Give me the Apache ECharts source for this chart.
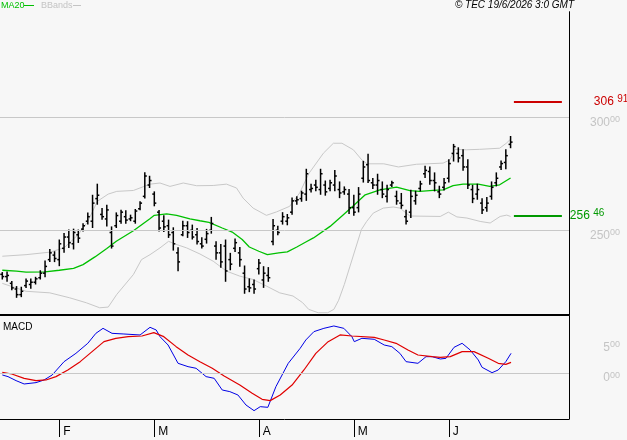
<!DOCTYPE html>
<html>
<head>
<meta charset="utf-8">
<script src="https://cdn.jsdelivr.net/npm/echarts@6/dist/echarts.min.js"></script>
<style>
html, body { margin: 0; padding: 0; background: #f7f7f7; }
#chart { width: 627px; height: 440px; }
</style>
</head>
<body>
<div id="chart"></div>
<script>
// daily bars
var opens = [230.5,229.5,226.5,224.0,221.5,225.5,226.0,227.0,229.0,231.0, 237.0,239.0,237.0,242.0,247.0,244.0,248.0,250.5,254.0,254.0,
  264.0,257.0,255.0,249.0,252.0,254.0,256.0,255.0,254.0,259.5, 265.0,270.0,266.0,258.0,254.0,252.0,249.0,240.0,248.0,252.0,
  250.0,248.0,244.0,246.0,250.0,243.0,240.0,243.0,237.0,242.0, 240.0,231.0,225.0,226.0,233.0,228.0,230.0,245.0,250.0,254.0,
  254.0,258.0,263.0,264.0,266.0,268.0,270.0,268.0,270.0,268.5, 270.0,268.0,267.0,266.0,260.0,260.0,273.0,279.0,271.0,270.0,
  268.0,265.0,270.0,265.0,262.0,256.0,258.0,263.0,268.5,275.0, 276.0,272.0,267.0,269.0,273.0,284.0,284.0,283.0,278.0,268.0,
  266.0,262.0,260.0,265.0,271.0,278.0,280.0,288.0];
var highs = [231.5,231.7,227.5,225.3,225.0,228.7,228.7,229.4,232.3,236.6, 241.7,240.7,245.9,248.8,250.3,250.7,250.3,253.1,257.9,265.7,
  270.6,259.8,261.3,251.7,257.9,259.1,258.8,256.9,259.4,262.8, 275.7,274.1,267.2,259.0,256.6,254.7,251.3,242.5,254.2,254.0,
  252.5,251.0,246.9,250.6,255.9,245.1,243.9,245.9,240.0,246.3, 242.6,234.4,228.7,228.2,237.3,234.1,233.7,255.0,252.0,258.0,
  257.2,264.5,265.0,267.5,277.2,270.6,272.3,277.2,272.0,272.3, 276.7,271.6,269.4,268.3,265.7,269.1,280.7,283.8,273.1,275.0,
  271.6,270.1,271.9,267.5,266.5,259.1,267.9,267.5,271.9,278.5, 278.2,275.6,269.7,273.1,281.4,288.2,286.7,285.8,281.4,270.1,
  270.6,264.2,264.7,271.6,275.6,280.9,285.8,291.7];
var lows = [228.2,227.2,223.5,220.1,220.4,224.5,224.1,226.0,228.2,229.2, 236.0,235.9,234.1,240.0,242.2,241.5,244.4,249.5,252.5,251.0,
  261.3,254.7,251.7,241.9,251.0,252.9,252.9,254.0,252.9,258.8, 264.0,268.7,260.6,249.5,249.2,246.6,241.0,231.9,247.3,246.6,
  245.9,243.7,241.9,244.1,248.5,237.0,233.4,227.2,232.3,240.4, 233.8,221.9,222.6,221.9,230.4,224.5,227.2,243.4,247.8,252.5,
  252.2,256.9,261.3,262.6,263.0,266.7,267.2,265.7,265.3,267.2, 267.2,264.2,265.7,257.2,256.4,257.9,271.1,270.9,268.3,265.7,
  264.2,262.3,269.1,261.3,259.5,252.5,255.4,261.3,267.2,273.1, 270.1,267.2,264.2,267.6,271.1,280.4,280.0,276.3,268.3,262.0,
  263.5,257.2,258.2,263.5,269.4,276.7,277.0,286.3];
var closes = [229.5,230.0,224.5,221.5,223.0,227.5,227.0,228.5,231.0,234.0, 240.0,237.5,244.0,247.0,244.5,249.0,246.5,252.0,256.0,262.0,
  265.5,256.0,259.0,243.0,256.5,258.0,254.5,255.5,258.5,262.0, 274.0,272.0,262.0,251.0,251.5,248.0,244.0,236.0,252.0,249.0,
  247.0,245.0,243.0,248.5,253.0,240.0,236.0,232.0,235.0,244.5, 237.0,224.0,224.5,224.0,235.5,231.0,229.0,252.0,249.0,256.0,
  255.5,263.0,263.5,266.5,275.0,268.5,269.0,275.0,267.0,271.0, 274.0,266.5,268.0,260.0,258.0,266.0,278.0,272.0,270.0,272.0,
  266.0,268.0,271.0,263.0,261.0,254.0,265.0,265.5,270.5,276.5, 272.0,271.0,266.0,271.0,279.5,287.0,282.0,278.0,270.0,264.0,
  268.0,259.0,262.0,269.0,273.0,279.5,283.0,289.0];

// month ticks (bar index of first day)
var monthStarts = [12, 32, 54, 74, 94];
var monthLabels = ['F', 'M', 'A', 'M', 'J'];

// MA20, sampled at bar positions
var maK = [0,3,5,9,12,15,17,19.5,22,24, 27.6,31,32,34.6,36.7,39.5,41.6,43.5,46.3,48.4,
  50.5,52,54,55.8,58.2,60,62,63.9,65.5,69, 71.8,73.9,76.4,79.5,83,85.8,87.9,90.7,92.8,94.9, 97,100.2,102.6,104.7,107];
var maV = [232.3,231.9,231.5,231.6,232.3,233.1,234.8,238.2,241.9,245.1, 249.8,255.0,256.6,257.2,256.6,255.0,254.2,253.5,251.0,249.2,
  245.9,242.6,240.7,239.2,240.0,240.4,242.6,244.8,246.6,251.7, 256.9,260.8,265.7,267.9,269.1,267.5,267.2,267.6,267.9,269.7,
  270.4,270.4,269.4,270.1,273.1];

// bollinger upper / lower
var ubK = [0,5,10,13,16,18,20,22.3,24.1,27.6, 31.1,33.2,35.3,38.1,40.9,44.4,47.2,49.3,50.7,52.8,
  55.6,57.7,60.5,62.6,64.5,67.6,69.7,71.5,73.9,75.7, 76.8,80.3,83.4,87.2,92.8,94.2,95.3,97.7,100.5,104.7, 106.1,107];
var ubV = [238.5,239.2,240.3,242.2,248.1,253.9,262.8,266.0,267.2,267.6, 270.4,270.9,269.4,270.9,269.7,269.8,270.4,268.7,264.2,259.8,
  256.6,258.1,260.6,266.5,275.0,284.1,288.5,288.5,285.6,281.1, 279.4,279.4,278.0,279.2,279.7,281.1,285.8,285.6,285.8,286.3, 288.5,290.3];
var lbK = [0,5,10,14.2,17.7,20.5,22.3,24.1,27.6,29.3, 31.1,33.2,35,36.4,38.8,41.6,44.4,47.2,50,52.8,
  55.6,58.4,61.2,63.2,64.5,66.5,68.5,69.8,70.8,72, 73.2,75.6,76.7,78.1,80.2,82.3,83.7,85.8,92.2,93.9,
  95.7,97.8,100.6,102.7,104.8,106.2,107];
var lbV = [226.5,223.0,222.3,220.1,217.9,215.7,216.0,221.6,230.4,237.0, 239.2,242.2,245.1,243.9,242.2,239.5,236.3,231.9,229.7,228.2,
  225.3,222.3,220.9,218.0,215.0,213.5,213.5,215.0,219.0,226.0, 234.1,250.3,253.9,257.6,259.8,260.3,259.8,256.3,256.1,258.0,
  255.9,255.4,253.9,253.2,256.1,256.7,256.1];

// MACD and signal
var macdK = [0,1.2,2.9,4.6,7.1,8.8,10.5,13.0,15.5,18.0, 19.7,21.2,23.1,25.6,29.0,31.1,32.4,33.2,34.9,37.0,
  39.1,40.8,42.9,44.6,46.3,47.9,49.6,51.3,53.0,54.3, 55.9,57.6,60.2,62.7,63.9,65.6,67.7,69.8,71.9,73.6,
  74.1,75.7,78.3,80.4,82.0,83.7,85.0,87.5,89.2,90.5, 92.2,93.4,95.1,96.8,98.5,100.2,101.0,103.1,104.4,106.0, 107.1];
var macdV = [-0.28,-0.55,-1.21,-1.76,-1.54,-1.10,-0.28,1.91,3.28,4.93, 6.57,7.39,6.57,6.46,6.30,7.56,7.12,6.02,4.65,1.64,
  1.09,0.82,-0.55,-0.83,-2.75,-3.02,-3.57,-5.22,-6.15,-5.49, -5.60,-2.20,1.64,4.10,5.48,6.85,7.39,7.78,7.39,6.02,
  5.20,5.75,5.59,4.65,4.38,3.28,1.91,1.64,2.73,2.73, 2.35,2.46,4.27,4.93,3.83,2.19,0.98,0.10,0.54,1.91, 3.28];
var sigK = [0,2.0,4.6,7.1,9.2,11.3,13.8,16.4,18.9,21.4, 23.9,26.5,29.4,31.9,34.0,36.6,39.1,41.6,44.2,46.7,
  50.0,52.6,54.7,56.4,58.5,61.0,63.5,66.0,68.6,71.1, 73.6,78.3,80.4,82.9,85.4,87.5,90.5,92.2,94.3,96.8, 99.3,102.3,104.4,106.0,107.1];
var sigV = [0.16,-0.12,-0.83,-1.21,-1.10,-0.55,0.54,1.91,3.56,5.20, 5.75,6.02,6.13,6.68,6.02,4.38,3.01,1.91,0.82,-0.45,
  -1.93,-3.30,-4.28,-4.50,-3.57,-1.93,0.54,3.28,5.20,6.30, 6.13,5.91,5.48,4.93,3.83,3.01,2.73,2.62,2.73,3.56, 3.56,2.46,1.64,1.47,1.80];

var priceTicks = [250, 300];
var macdTicks = [0, 5];
var resistance = 306.91;
var support = 256.46;

function pairs (ks, vs) {
  return ks.map(function (k, i) { return [k, vs[i]] })
}
function decLabel (v, sep) {
  var s = v.toFixed(2).split('.');
  return '{a|' + s[0] + '}' + (sep || '') + '{b|' + s[1] + '}';
}

var bars = [];
for (var i = 0; i < opens.length; i++) {
  bars.push([i, opens[i], highs[i], lows[i], closes[i]]);
}

var xMin = -0.484;
var xMax = 119.3;
var font = 'Liberation Sans, Arial, sans-serif';
var richLab = function (col, small) {
  return {
    a: { fontSize: 12, color: col, fontFamily: font, lineHeight: 14 },
    b: { fontSize: small, color: col, fontFamily: font, lineHeight: 14, padding: [0, 0, 5, 0] }
  }
};

var chart = echarts.init(document.getElementById('chart'));
var opt = {
  backgroundColor: '#f7f7f7',
  animation: false,
  grid: [
    { left: 0, right: 58, top: 11.7, bottom: 125 },
    { left: 0, right: 58, top: 316, bottom: 21 }
  ],
  xAxis: [
    {
      gridIndex: 0, type: 'value', min: xMin, max: xMax,
      axisLine: { show: true, onZero: false, lineStyle: { color: '#000', width: 2 } },
      axisTick: { show: false }, axisLabel: { show: false }, splitLine: { show: false }
    },
    {
      gridIndex: 1, type: 'value', min: xMin, max: xMax,
      axisLine: { show: true, onZero: false, lineStyle: { color: '#000', width: 1 } },
      axisTick: { show: true, customValues: monthStarts, length: 18, lineStyle: { color: '#000' } },
      axisLabel: {
        customValues: monthStarts, align: 'left', margin: 7, color: '#000', fontSize: 12, fontFamily: font,
        padding: [0, 0, 0, 4],
        formatter: function (v) { var j = monthStarts.indexOf(v); return j < 0 ? '' : monthLabels[j] }
      },
      splitLine: { show: false }
    }
  ],
  yAxis: [
    {
      gridIndex: 0, type: 'value', position: 'right', min: 212.5, max: 346.7,
      axisLine: { show: true, onZero: false, lineStyle: { color: '#000' } },
      axisTick: { show: false }, splitLine: { show: false },
      axisLabel: {
        customValues: priceTicks, align: 'right', margin: 51, padding: [10, 0, 0, 0],
        formatter: function (v) { return decLabel(v) },
        rich: richLab('#c4c4c4', 9)
      }
    },
    {
      gridIndex: 1, type: 'value', position: 'right', min: -7.52, max: 9.42,
      axisLine: { show: true, onZero: false, lineStyle: { color: '#000' } },
      axisTick: { show: false }, splitLine: { show: false },
      axisLabel: {
        customValues: macdTicks, align: 'right', margin: 51, padding: [9, 0, 0, 0],
        formatter: function (v) { return decLabel(v) },
        rich: richLab('#c4c4c4', 9)
      }
    }
  ],
  series: [
    {
      name: 'BBup', type: 'line', xAxisIndex: 0, yAxisIndex: 0, data: pairs(ubK, ubV),
      showSymbol: false, lineStyle: { color: '#c8c8c8', width: 1 }, z: 2
    },
    {
      name: 'BBlow', type: 'line', xAxisIndex: 0, yAxisIndex: 0, data: pairs(lbK, lbV),
      showSymbol: false, lineStyle: { color: '#c8c8c8', width: 1 }, z: 2
    },
    {
      name: 'MA20', type: 'line', xAxisIndex: 0, yAxisIndex: 0, data: pairs(maK, maV),
      showSymbol: false, lineStyle: { color: '#00c000', width: 1.3 }, z: 3,
      markLine: {
        silent: true, symbol: 'none', animation: false,
        data: [
          { yAxis: priceTicks[0], lineStyle: { color: '#c8c8c8', width: 1, type: 'solid' }, label: { show: false } },
          { yAxis: priceTicks[1], lineStyle: { color: '#c8c8c8', width: 1, type: 'solid' }, label: { show: false } },
          [
            { coord: [107.7, resistance], lineStyle: { color: '#cc0000', width: 2, type: 'solid' },
              label: { show: true, position: 'end', distance: 32, formatter: decLabel(resistance, ' '), rich: richLab('#cc0000', 10) } },
            { coord: [117.8, resistance] }
          ],
          [
            { coord: [107.7, support], lineStyle: { color: '#009900', width: 2, type: 'solid' },
              label: { show: true, position: 'end', distance: 8, formatter: decLabel(support, ' '), rich: richLab('#009900', 10) } },
            { coord: [117.8, support] }
          ]
        ]
      }
    },
    {
      name: 'bars', type: 'custom', xAxisIndex: 0, yAxisIndex: 0, data: bars, z: 4,
      encode: { x: 0, y: [1, 2, 3, 4] },
      renderItem: function (params, api) {
        var x = api.value(0);
        var pH = api.coord([x, api.value(2)]);
        var pL = api.coord([x, api.value(3)]);
        var pO = api.coord([x, api.value(1)]);
        var pC = api.coord([x, api.value(4)]);
        var st = { stroke: '#000', lineWidth: 1.5 };
        return {
          type: 'group',
          children: [
            { type: 'line', shape: { x1: pH[0], y1: pH[1], x2: pL[0], y2: pL[1] }, style: st },
            { type: 'line', shape: { x1: pO[0] - 2, y1: pO[1], x2: pO[0], y2: pO[1] }, style: st },
            { type: 'line', shape: { x1: pC[0], y1: pC[1], x2: pC[0] + 2, y2: pC[1] }, style: st }
          ]
        }
      }
    },
    {
      name: 'MACD', type: 'line', xAxisIndex: 1, yAxisIndex: 1, data: pairs(macdK, macdV),
      showSymbol: false, lineStyle: { color: '#0000e6', width: 1 }, z: 3,
      markLine: {
        silent: true, symbol: 'none',
        data: [{ yAxis: 0, lineStyle: { color: '#c8c8c8', width: 1, type: 'solid' }, label: { show: false } }]
      }
    },
    {
      name: 'Signal', type: 'line', xAxisIndex: 1, yAxisIndex: 1, data: pairs(sigK, sigV),
      showSymbol: false, lineStyle: { color: '#e00000', width: 1.2 }, z: 4
    }
  ],
  graphic: [
    { type: 'text', left: 1, top: 1, style: { text: 'MA20', fill: '#00c000', font: '9px ' + font } },
    { type: 'line', shape: { x1: 24, y1: 5.5, x2: 34, y2: 5.5 }, style: { stroke: '#00c000', lineWidth: 1 } },
    { type: 'text', left: 41, top: 1, style: { text: 'BBands', fill: '#c4c4c4', font: '9px ' + font } },
    { type: 'line', shape: { x1: 73, y1: 5.5, x2: 81, y2: 5.5 }, style: { stroke: '#c4c4c4', lineWidth: 1 } },
    { type: 'text', right: 53, top: 0, style: { text: '\u00a9 TEC 19/6/2026 3:0 GMT', fill: '#000', font: 'italic 10px ' + font } },
    { type: 'text', left: 3, top: 322, style: { text: 'MACD', fill: '#000', font: '10px ' + font } }
  ]
};
chart.setOption(opt);
</script>
</body>
</html>
